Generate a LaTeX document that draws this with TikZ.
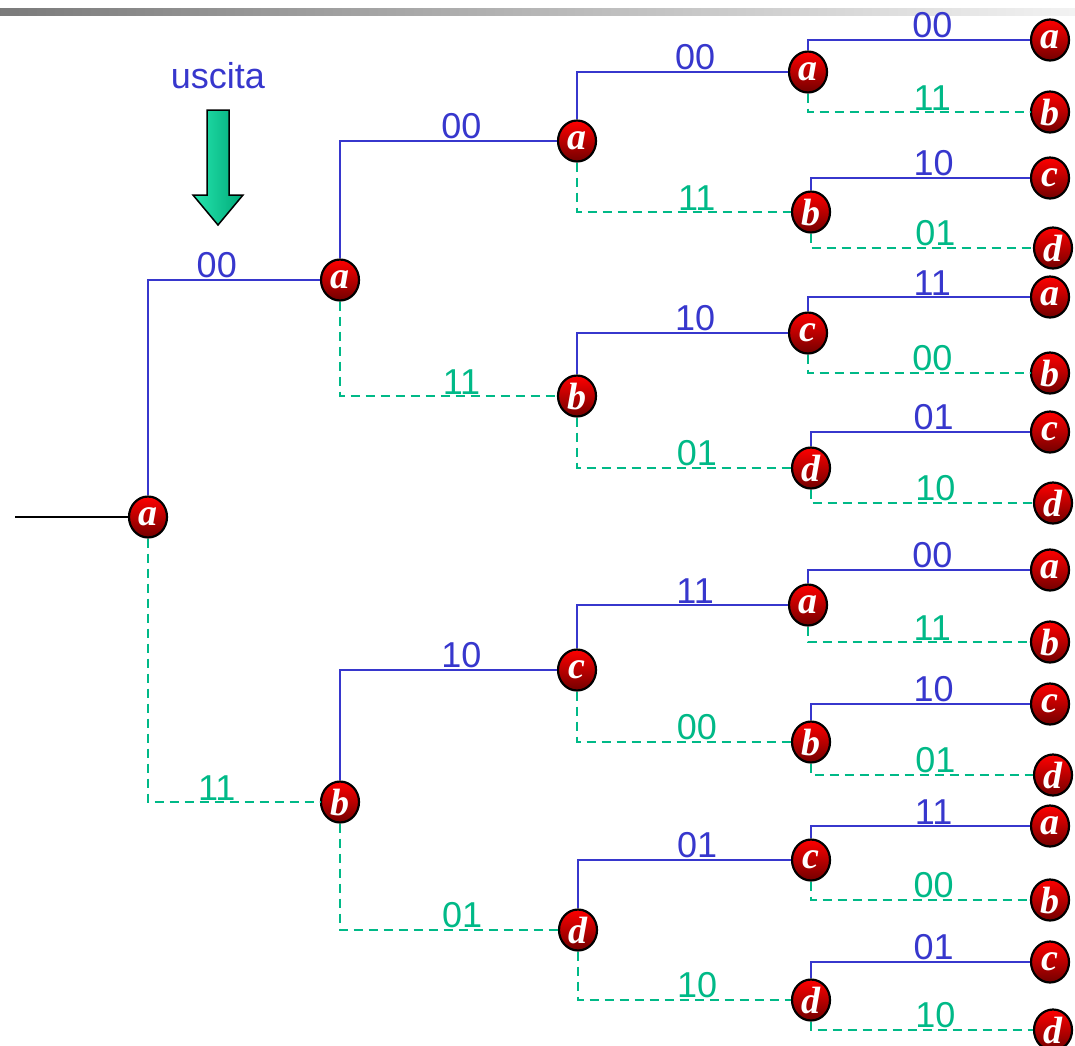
\documentclass[tikz,border=0pt]{standalone}
\usepackage{fontspec}
\setmainfont{Liberation Sans}
\newfontfamily\letterfont{Liberation Serif}
\usepackage{tikz}
\usetikzlibrary{arrows.meta,shapes.geometric}

\definecolor{ramoblu}{RGB}{55,55,205}
\definecolor{ramoverde}{RGB}{0,185,135}
\definecolor{freccia}{RGB}{0,225,160}

\tikzset{
  stato/.style={ellipse,draw=black,line width=2.2pt,minimum width=38pt,minimum height=41pt,
    inner sep=0pt,top color=red!100,bottom color=red!45!black,text=white,
    font=\letterfont\fontsize{38}{38}\selectfont\bfseries\itshape,text depth=-5pt},
  ramosu/.style={draw=ramoblu,line width=2pt},
  ramogiu/.style={draw=ramoverde,line width=2pt,dash pattern=on 9pt off 6pt},
  etsu/.style={text=ramoblu,font=\fontsize{36}{36}\selectfont,above,inner sep=1pt,pos=0.78},
  etgiu/.style={text=ramoverde,font=\fontsize{36}{36}\selectfont,above,inner sep=1pt,pos=0.78}
}

\begin{document}
\begin{tikzpicture}[x=1pt,y=-1pt]
  \useasboundingbox (0,0) rectangle (1075,1045);
  % barra in alto
  \shade[left color=black!52,right color=black!5] (0,8) rectangle (1075,15);

  % freccia uscita
  \node[text=ramoblu,font=\fontsize{36}{36}\selectfont] (usc) at (218,76) {uscita};
  \shade[left color=freccia!85!white,right color=freccia!75!black,draw=black,line width=1.5pt]
    (207,110) -- (229,110) -- (229,195) -- (243,195) -- (218,225) -- (193,195) -- (207,195) -- cycle;

  % stati
  \node[stato] (s0) at (148,517) {a};
  \node[stato] (s1a) at (340,280) {a};
  \node[stato] (s1b) at (340,802) {b};
  \node[stato] (s2a) at (577,141) {a};
  \node[stato] (s2b) at (577,396) {b};
  \node[stato] (s2c) at (577,670) {c};
  \node[stato] (s2d) at (578,930) {d};
  \node[stato] (s3a) at (808,72) {a};
  \node[stato] (s3b) at (811,212) {b};
  \node[stato] (s3c) at (808,333) {c};
  \node[stato] (s3d) at (811,468) {d};
  \node[stato] (s3e) at (808,605) {a};
  \node[stato] (s3f) at (811,742) {b};
  \node[stato] (s3g) at (811,860) {c};
  \node[stato] (s3h) at (811,1000) {d};
  \node[stato] (f1) at (1050,40) {a};
  \node[stato] (f2) at (1050,112) {b};
  \node[stato] (f3) at (1050,178) {c};
  \node[stato] (f4) at (1053,248) {d};
  \node[stato] (f5) at (1050,297) {a};
  \node[stato] (f6) at (1050,373) {b};
  \node[stato] (f7) at (1050,432) {c};
  \node[stato] (f8) at (1053,503) {d};
  \node[stato] (f9) at (1050,570) {a};
  \node[stato] (f10) at (1050,642) {b};
  \node[stato] (f11) at (1050,704) {c};
  \node[stato] (f12) at (1053,775) {d};
  \node[stato] (f13) at (1050,826) {a};
  \node[stato] (f14) at (1050,900) {b};
  \node[stato] (f15) at (1050,962) {c};
  \node[stato] (f16) at (1053,1030) {d};

  % ingresso
  \coordinate (in) at (15,517);
  \draw[line width=2pt] (in) -- (s0.west);

  % rami
  \draw[ramosu] (s0.north) |- node[etsu,pos=0.7] {00} (s1a.west);
  \draw[ramogiu] (s0.south) |- node[etgiu,pos=0.7] {11} (s1b.west);
  \draw[ramosu] (s1a.north) |- node[etsu] {00} (s2a.west);
  \draw[ramogiu] (s1a.south) |- node[etgiu] {11} (s2b.west);
  \draw[ramosu] (s1b.north) |- node[etsu] {10} (s2c.west);
  \draw[ramogiu] (s1b.south) |- node[etgiu] {01} (s2d.west);
  \draw[ramosu] (s2a.north) |- node[etsu] {00} (s3a.west);
  \draw[ramogiu] (s2a.south) |- node[etgiu] {11} (s3b.west);
  \draw[ramosu] (s2b.north) |- node[etsu] {10} (s3c.west);
  \draw[ramogiu] (s2b.south) |- node[etgiu] {01} (s3d.west);
  \draw[ramosu] (s2c.north) |- node[etsu] {11} (s3e.west);
  \draw[ramogiu] (s2c.south) |- node[etgiu] {00} (s3f.west);
  \draw[ramosu] (s2d.north) |- node[etsu] {01} (s3g.west);
  \draw[ramogiu] (s2d.south) |- node[etgiu] {10} (s3h.west);
  \draw[ramosu] (s3a.north) |- node[etsu] {00} (f1.west);
  \draw[ramogiu] (s3a.south) |- node[etgiu] {11} (f2.west);
  \draw[ramosu] (s3b.north) |- node[etsu] {10} (f3.west);
  \draw[ramogiu] (s3b.south) |- node[etgiu] {01} (f4.west);
  \draw[ramosu] (s3c.north) |- node[etsu] {11} (f5.west);
  \draw[ramogiu] (s3c.south) |- node[etgiu] {00} (f6.west);
  \draw[ramosu] (s3d.north) |- node[etsu] {01} (f7.west);
  \draw[ramogiu] (s3d.south) |- node[etgiu] {10} (f8.west);
  \draw[ramosu] (s3e.north) |- node[etsu] {00} (f9.west);
  \draw[ramogiu] (s3e.south) |- node[etgiu] {11} (f10.west);
  \draw[ramosu] (s3f.north) |- node[etsu] {10} (f11.west);
  \draw[ramogiu] (s3f.south) |- node[etgiu] {01} (f12.west);
  \draw[ramosu] (s3g.north) |- node[etsu] {11} (f13.west);
  \draw[ramogiu] (s3g.south) |- node[etgiu] {00} (f14.west);
  \draw[ramosu] (s3h.north) |- node[etsu] {01} (f15.west);
  \draw[ramogiu] (s3h.south) |- node[etgiu] {10} (f16.west);
\end{tikzpicture}
\end{document}
